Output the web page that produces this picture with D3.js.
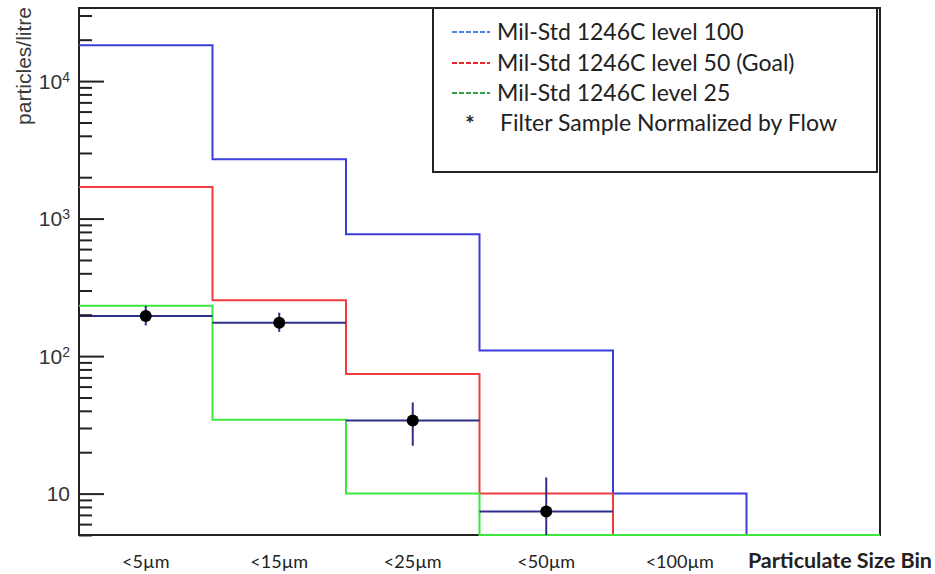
<html>
<head>
<style>
  body { margin: 0; background: #fff; }
  svg text { fill: #222; }
</style>
</head>
<body>
<div id="graph"></div>
<script src="https://cdnjs.cloudflare.com/ajax/libs/d3/7.8.5/d3.min.js"></script>
<script>
// size bins (last bin has no label)
var binLabels = ["<5\u00b5m", "<15\u00b5m", "<25\u00b5m", "<50\u00b5m", "<100\u00b5m", ""];

// Mil-Std 1246C limits, particles/litre (values at the axis floor drawn at the bottom)
var level100 = [18200, 2700, 770, 110, 10, 5];
var level50  = [1700, 255, 74, 10, 5, 5];
var level25  = [232, 34.5, 10, 5, 5, 5];

// filter sample normalized by flow (null = empty bin)
var sample   = [196, 175, 34, 7.4, null, null];
var sampleLo = [167, 150, 22.3, 2, null, null];
var sampleHi = [232, 207, 46, 13.1, null, null];

var legendNames = ["Mil-Std 1246C level 100", "Mil-Std 1246C level 50 (Goal)", "Mil-Std 1246C level 25", "Filter Sample Normalized by Flow"];

var W = 935, H = 574;
var padL = 79, padR = 880, padT = 8, padB = 535;
var yMin = 5, yMax = 34000;

var svg = d3.select("#graph").append("svg")
    .attr("width", W).attr("height", H);

var x = d3.scaleBand().domain(binLabels).range([padL, padR]).padding(0);
var y = d3.scaleLog().domain([yMin, yMax]).range([padB, padT]);
var yc = function(v) { return y(Math.max(yMin, Math.min(yMax, v))); };

// frame (drawn first so histograms sitting on the floor stay visible)
svg.append("rect").attr("x", padL).attr("y", padT)
    .attr("width", padR - padL).attr("height", padB - padT)
    .attr("fill", "none").attr("stroke", "#222").attr("stroke-width", 2);

// step histogram path
function stepPath(vals) {
    var p = d3.path();
    vals.forEach(function(v, i) {
        var x0 = x(binLabels[i]), x1 = x0 + x.bandwidth();
        if (i == 0) p.moveTo(x0, yc(v)); else p.lineTo(x0, yc(v));
        p.lineTo(x1, yc(v));
    });
    return p.toString();
}

var colors = { blue: "#3c3cdc", red: "#f03c3c", green: "#3ce63c", navy: "#2f2f8a" };

svg.append("path").attr("d", stepPath(level100))
    .attr("fill", "none").attr("stroke", colors.blue).attr("stroke-width", 2);
svg.append("path").attr("d", stepPath(level50))
    .attr("fill", "none").attr("stroke", colors.red).attr("stroke-width", 2);
svg.append("path").attr("d", stepPath(level25))
    .attr("fill", "none").attr("stroke", colors.green).attr("stroke-width", 2);

// sample points
var pts = sample.map(function(v, i) {
    return { v: v, lo: sampleLo[i], hi: sampleHi[i], bin: binLabels[i] };
}).filter(function(d) { return d.v != null; });

var g = svg.append("g");
g.selectAll(".hbar").data(pts).enter().append("line")
    .attr("x1", function(d) { return x(d.bin); })
    .attr("x2", function(d) { return x(d.bin) + x.bandwidth(); })
    .attr("y1", function(d) { return yc(d.v); })
    .attr("y2", function(d) { return yc(d.v); })
    .attr("stroke", colors.navy).attr("stroke-width", 2);
g.selectAll(".vbar").data(pts).enter().append("line")
    .attr("x1", function(d) { return x(d.bin) + x.bandwidth() / 2; })
    .attr("x2", function(d) { return x(d.bin) + x.bandwidth() / 2; })
    .attr("y1", function(d) { return yc(d.lo); })
    .attr("y2", function(d) { return yc(d.hi); })
    .attr("stroke", colors.navy).attr("stroke-width", 2);
g.selectAll("circle").data(pts).enter().append("circle")
    .attr("cx", function(d) { return x(d.bin) + x.bandwidth() / 2; })
    .attr("cy", function(d) { return yc(d.v); })
    .attr("r", 6).attr("fill", "#000");

// y axis: major + minor ticks pointing inward
var majors = [10, 100, 1000, 10000];
var minors = [];
[1, 10, 100, 1000, 10000].forEach(function(d) {
    for (var k = 2; k <= 9; k++) {
        var v = d * k;
        if (v >= yMin && v <= yMax) minors.push(v);
    }
});

svg.append("g").attr("transform", "translate(" + padL + ",0)")
    .call(d3.axisLeft(y).tickValues(minors).tickSize(-13).tickFormat(""))
    .call(function(s) { s.select(".domain").remove(); s.selectAll("line").attr("stroke", "#222").attr("stroke-width", 2); });

var yAxis = svg.append("g").attr("transform", "translate(" + padL + ",0)")
    .call(d3.axisLeft(y).tickValues(majors).tickSize(-25).tickPadding(9).tickFormat(""));
yAxis.select(".domain").remove();
yAxis.selectAll("line").attr("stroke", "#222").attr("stroke-width", 2);
yAxis.selectAll("text").each(function(d) {
    var t = d3.select(this).style("font-family", "'Liberation Sans', Arial, sans-serif")
        .style("font-size", "21px").style("fill", "#333").attr("dy", "0.35em");
    var e = Math.round(Math.log10(d));
    t.append("tspan").text("10");
    if (e > 1) t.append("tspan").attr("dy", "-0.5em").style("font-size", "14px").text(e);
});

// x axis labels
var xAxis = svg.append("g").attr("transform", "translate(0," + padB + ")")
    .call(d3.axisBottom(x).tickSize(0).tickPadding(20));
xAxis.select(".domain").remove();
xAxis.selectAll("text")
    .style("font-family", "Lato, sans-serif").style("font-size", "18px").style("fill", "#222");

svg.append("text").attr("x", 932).attr("y", 568).attr("text-anchor", "end")
    .style("font-family", "Lato, sans-serif").style("font-size", "21.5px").style("font-weight", "bold")
    .text("Particulate Size Bin");

svg.append("text").attr("transform", "translate(31,7) rotate(-90)")
    .attr("text-anchor", "end")
    .style("font-family", "'Liberation Sans', Arial, sans-serif").style("font-size", "21px")
    .style("fill", "#3a3a3a")
    .text("particles/litre");

// legend
var lg = svg.append("g");
lg.append("rect").attr("x", 433).attr("y", 8).attr("width", 444).attr("height", 164)
    .attr("fill", "#fff").attr("stroke", "#222").attr("stroke-width", 2);
var legColors = ["#4a86e8", "#e8262a", "#2ea04e"];
var rowY = [32, 63, 93, 123];
legendNames.forEach(function(name, i) {
    if (i < 3) {
        lg.append("line").attr("x1", 452).attr("x2", 490)
            .attr("y1", rowY[i]).attr("y2", rowY[i])
            .attr("stroke", legColors[i]).attr("stroke-width", 2)
            .attr("stroke-dasharray", "5,2");
    } else {
        lg.append("text").attr("x", 470).attr("y", rowY[i] + 9).attr("text-anchor", "middle")
            .style("font-family", "Lato, sans-serif").style("font-size", "22px").style("font-weight", "bold")
            .text("*");
    }
    lg.append("text").attr("x", i < 3 ? 497 : 500).attr("y", rowY[i]).attr("dy", "0.35em")
        .style("font-family", "Lato, sans-serif").style("font-size", "23px")
        .text(name);
});
</script>
</body>
</html>
